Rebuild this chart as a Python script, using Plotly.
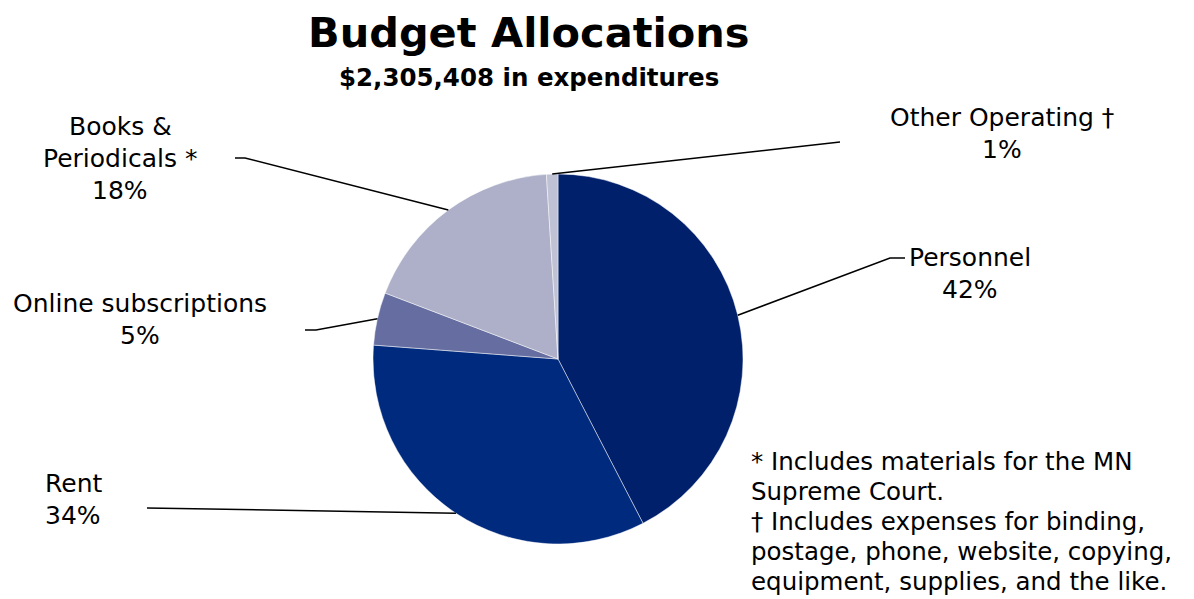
import math
import plotly.graph_objects as go

# ---- data ----
labels = ["Personnel", "Rent", "Online subscriptions", "Books &|Periodicals *", "Other Operating †"]
values = [42.4, 33.8, 4.6, 18.2, 1.0]
colors = ["#00206B", "#002A7E", "#666EA1", "#ADB0C8", "#BFC1D5"]
title_text = "Budget Allocations"
subtitle_text = "$2,305,408 in expenditures"
footnote_lines = [
    "* Includes materials for the MN",
    "Supreme Court.",
    "† Includes expenses for binding,",
    "postage, phone, website, copying,",
    "equipment, supplies, and the like.",
]

# ---- layout (pixels) ----
W, H = 1194, 599
CX, CY, R = 558, 359, 185
label_pos = [(970, 257), (73, 483), (140, 303), (120, 126), (1002, 117)]  # first line centre
elbow_pos = [[(890, 258), (905, 258)], [(147, 508)], [(316, 330), (305, 330)],
             [(245, 158), (235, 158)], [(840, 142)]]
LINE = 32
FONT = "DejaVu Sans, sans-serif"
LSIZE = 25

def px(x):
    return x / W

def py(y):
    return 1 - y / H

fig = go.Figure(go.Pie(
    labels=[l.replace("|", " ") for l in labels], values=values, sort=False,
    direction="clockwise", rotation=0,
    marker=dict(colors=colors, line=dict(color="rgba(255,255,255,0.6)", width=0.8)),
    textinfo="none", hoverinfo="label+percent", showlegend=False,
    domain=dict(x=[px(CX - R), px(CX + R)], y=[py(CY + R), py(CY - R)]),
))

def text_ann(t, x, y, size, anchor="center", bold=False):
    return dict(text=f"<b>{t}</b>" if bold else t, x=px(x), y=py(y), xref="paper", yref="paper",
                showarrow=False, xanchor=anchor, yanchor="middle",
                font=dict(family=FONT, size=size, color="black"))

total = sum(values)
cum = 0.0
shapes = []
annotations = []
for i, (lab, v) in enumerate(zip(labels, values)):
    mid = (cum + v / 2) / total * 2 * math.pi
    cum += v
    ax = CX + R * math.sin(mid)
    ay = CY - R * math.cos(mid)
    pts = [(ax, ay)] + elbow_pos[i]
    path = "M " + " L ".join(f"{px(x)},{py(y)}" for x, y in pts)
    shapes.append(dict(type="path", path=path, xref="paper", yref="paper",
                       line=dict(color="black", width=1.5)))
    pct = round(v / total * 100)
    lines = lab.split("|") + [f"{pct}%"]
    lx, ly = label_pos[i]
    for k, t in enumerate(lines):
        annotations.append(text_ann(t, lx, ly + k * LINE, LSIZE))

annotations.append(text_ann(title_text, 529, 32, 41.5, bold=True))
annotations.append(text_ann(subtitle_text, 529, 77, 24.5, bold=True))
for k, t in enumerate(footnote_lines):
    annotations.append(text_ann(t, 749, 461 + k * 30, 24.5, anchor="left"))

fig.update_layout(width=W, height=H, margin=dict(l=0, r=0, t=0, b=0),
                  paper_bgcolor="white", plot_bgcolor="white",
                  shapes=shapes, annotations=annotations)
fig.write_html("out.html", config={"displayModeBar": False},
               post_script="document.body.style.margin='0';document.body.style.overflow='hidden';")
